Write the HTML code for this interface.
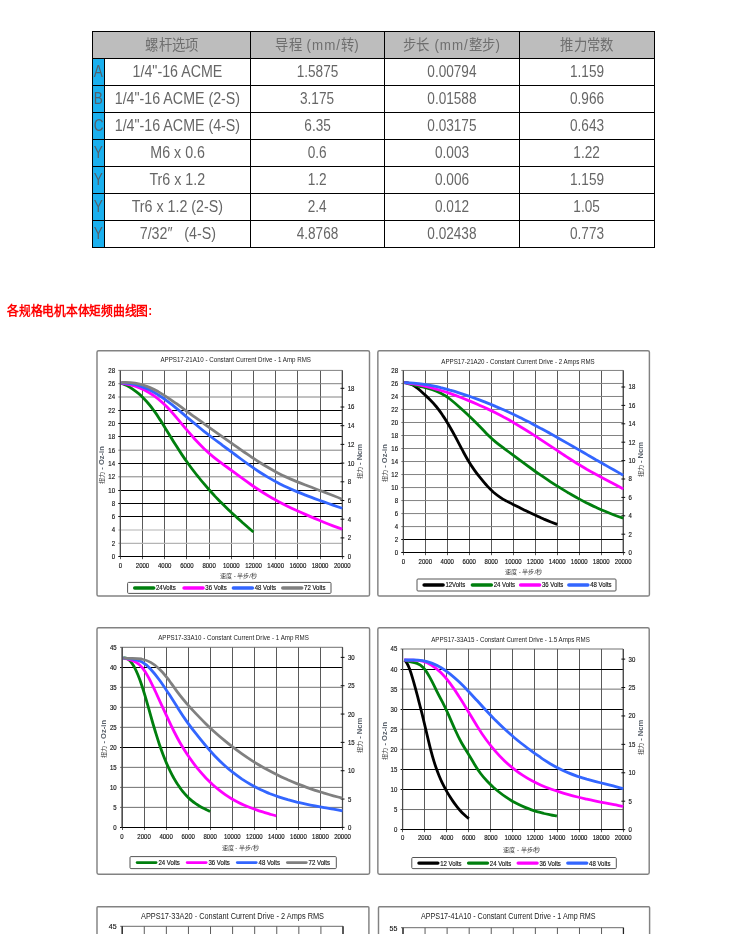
<!DOCTYPE html>
<html lang="zh-CN">
<head>
<meta charset="utf-8">
<title>螺杆选项 / 矩频曲线图</title>
<style>
html,body{margin:0;padding:0;background:#fff;}
html{width:750px;height:934px;overflow:hidden;}
body{width:750px;height:934px;position:relative;overflow:hidden;font-family:"Liberation Sans",sans-serif;color:#666;}
table.spec{position:absolute;left:92px;top:31px;border-collapse:separate;border-spacing:0;table-layout:fixed;width:563px;border-left:1px solid #000;border-top:1px solid #000;font-size:16px;}
table.spec td,table.spec th{box-sizing:border-box;height:27px;padding:0;border-right:1px solid #000;border-bottom:1px solid #000;text-align:center;vertical-align:middle;font-weight:normal;line-height:26px;white-space:nowrap;overflow:hidden;color:#666;}
table.spec th{background:#bdbdbd;color:#6e6e6e;font-size:15px;}
table.spec td.k{background:#1bb0ee;color:#54606a;}
table.spec span{display:inline-block;transform-origin:50% 50%;transform:scaleX(.85);}
table.spec span.n{transform:scaleX(.89);}
table.spec th span{transform:scaleX(.89);}
table.spec th b{font-weight:normal;letter-spacing:1.1px;}
h3.cap{position:absolute;left:7px;top:303px;margin:0;font-size:13px;line-height:15px;font-weight:bold;color:#f00;white-space:nowrap;transform:scaleX(.905);transform-origin:0 50%;}
svg.chart{position:absolute;overflow:hidden;}
svg.chart g.soft,svg.chart.soft{filter:blur(.35px);}
svg.chart text{font-family:"Liberation Sans",sans-serif;fill:#222;}
svg.chart text.ax{font-size:6.7px;fill:#111;stroke:#111;stroke-width:.15px;}
svg.chart text.big{font-size:7.8px;}
svg.chart text.at{font-size:6.1px;fill:#3c3c3c;}
svg.chart tspan.b{font-size:7.6px;font-weight:bold;fill:#5a626c;}
svg.chart text.tt{fill:#222;}
</style>
</head>
<body>
<table class="spec">
<colgroup><col style="width:12px"><col style="width:146px"><col style="width:134px"><col style="width:135px"><col style="width:135px"></colgroup>
<thead><tr><th colspan="2"><span>螺杆选项</span></th><th><span>导程<b> (mm/</b>转<b>)</b></span></th><th><span>步长<b> (mm/</b>整步<b>)</b></span></th><th><span>推力常数</span></th></tr></thead>
<tbody>
<tr><td class="k"><span>A</span></td><td><span class="n">1/4"-16 ACME</span></td><td><span class="d">1.5875</span></td><td><span class="d">0.00794</span></td><td><span class="d">1.159</span></td></tr>
<tr><td class="k"><span>B</span></td><td><span class="n">1/4"-16 ACME (2-S)</span></td><td><span class="d">3.175</span></td><td><span class="d">0.01588</span></td><td><span class="d">0.966</span></td></tr>
<tr><td class="k"><span>C</span></td><td><span class="n">1/4"-16 ACME (4-S)</span></td><td><span class="d">6.35</span></td><td><span class="d">0.03175</span></td><td><span class="d">0.643</span></td></tr>
<tr><td class="k"><span>Y</span></td><td><span class="n">M6 x 0.6</span></td><td><span class="d">0.6</span></td><td><span class="d">0.003</span></td><td><span class="d">1.22</span></td></tr>
<tr><td class="k"><span>Y</span></td><td><span class="n">Tr6 x 1.2</span></td><td><span class="d">1.2</span></td><td><span class="d">0.006</span></td><td><span class="d">1.159</span></td></tr>
<tr><td class="k"><span>Y</span></td><td><span class="n">Tr6 x 1.2 (2-S)</span></td><td><span class="d">2.4</span></td><td><span class="d">0.012</span></td><td><span class="d">1.05</span></td></tr>
<tr><td class="k"><span>Y</span></td><td><span class="n">7/32″&nbsp;&nbsp; (4-S)</span></td><td><span class="d">4.8768</span></td><td><span class="d">0.02438</span></td><td><span class="d">0.773</span></td></tr>
</tbody>
</table>
<h3 class="cap">各规格电机本体矩频曲线图:</h3>
<svg class="chart" style="left:95px;top:348px" width="277" height="250" viewBox="95 348 277 250">
<g class="soft">
<rect x="97" y="350.75" width="272.5" height="245.25" rx="1.6" fill="#fff" stroke="#828282" stroke-width="1.45"/>
<text class="tt" x="160.4" y="362.34" font-size="6.5" textLength="150.6" lengthAdjust="spacingAndGlyphs">APPS17-21A10 - Constant Current Drive - 1 Amp RMS</text>
<path d="M120.5 370.4V559.2M142.5 370.4V559.2M164.5 370.4V559.2M186.5 370.4V559.2M209.5 370.4V559.2M231.5 370.4V559.2M253.5 370.4V559.2M275.5 370.4V559.2M297.5 370.4V559.2M320.5 370.4V559.2M342.5 370.4V559.2" stroke="#5a5a5a" stroke-width="1" fill="none"/>
<path d="M118.3 476.8H342.3M118.3 450.2H342.3M118.3 397H342.3M118.3 383.7H342.3M118.3 370.4H342.3" stroke="#828282" stroke-width="1" fill="none"/>
<path d="M118.3 543.3H342.3M118.3 530H342.3" stroke="#b4b4b4" stroke-width="1.2" fill="none"/>
</g>
<path d="M118.3 556.5H342.3M118.3 516.5H342.3M118.3 503.5H342.3M118.3 490.5H342.3M118.3 463.5H342.3M118.3 436.5H342.3M118.3 423.5H342.3M118.3 410.5H342.3" stroke="#000" stroke-width="1" fill="none"/>
<path d="M120.3 370.4V556.6M342.3 370.4V556.6" stroke="#4a4a4a" stroke-width="1.25" fill="none"/>
<g class="soft">
<text class="ax" transform="translate(115 559.05) scale(0.9 1)" text-anchor="end">0</text>
<text class="ax" transform="translate(115 545.75) scale(0.9 1)" text-anchor="end">2</text>
<text class="ax" transform="translate(115 532.45) scale(0.9 1)" text-anchor="end">4</text>
<text class="ax" transform="translate(115 519.15) scale(0.9 1)" text-anchor="end">6</text>
<text class="ax" transform="translate(115 505.85) scale(0.9 1)" text-anchor="end">8</text>
<text class="ax" transform="translate(115 492.55) scale(0.9 1)" text-anchor="end">10</text>
<text class="ax" transform="translate(115 479.25) scale(0.9 1)" text-anchor="end">12</text>
<text class="ax" transform="translate(115 465.95) scale(0.9 1)" text-anchor="end">14</text>
<text class="ax" transform="translate(115 452.65) scale(0.9 1)" text-anchor="end">16</text>
<text class="ax" transform="translate(115 439.35) scale(0.9 1)" text-anchor="end">18</text>
<text class="ax" transform="translate(115 426.05) scale(0.9 1)" text-anchor="end">20</text>
<text class="ax" transform="translate(115 412.75) scale(0.9 1)" text-anchor="end">22</text>
<text class="ax" transform="translate(115 399.45) scale(0.9 1)" text-anchor="end">24</text>
<text class="ax" transform="translate(115 386.15) scale(0.9 1)" text-anchor="end">26</text>
<text class="ax" transform="translate(115 372.85) scale(0.9 1)" text-anchor="end">28</text>
<text class="ax" transform="translate(347.7 559.05) scale(0.9 1)">0</text>
<text class="ax" transform="translate(347.7 540.35) scale(0.9 1)">2</text>
<text class="ax" transform="translate(347.7 521.65) scale(0.9 1)">4</text>
<text class="ax" transform="translate(347.7 502.95) scale(0.9 1)">6</text>
<text class="ax" transform="translate(347.7 484.25) scale(0.9 1)">8</text>
<text class="ax" transform="translate(347.7 465.55) scale(0.9 1)">10</text>
<text class="ax" transform="translate(347.7 446.85) scale(0.9 1)">12</text>
<text class="ax" transform="translate(347.7 428.15) scale(0.9 1)">14</text>
<text class="ax" transform="translate(347.7 409.45) scale(0.9 1)">16</text>
<text class="ax" transform="translate(347.7 390.75) scale(0.9 1)">18</text>
<path d="M340.5 556.6H344.3M340.5 537.9H344.3M340.5 519.2H344.3M340.5 500.5H344.3M340.5 481.8H344.3M340.5 463.1H344.3M340.5 444.4H344.3M340.5 425.7H344.3M340.5 407H344.3M340.5 388.3H344.3" stroke="#111" stroke-width="1" fill="none"/>
<text class="ax" transform="translate(120.3 567.85) scale(0.9 1)" text-anchor="middle">0</text>
<text class="ax" transform="translate(142.5 567.85) scale(0.9 1)" text-anchor="middle">2000</text>
<text class="ax" transform="translate(164.7 567.85) scale(0.9 1)" text-anchor="middle">4000</text>
<text class="ax" transform="translate(186.9 567.85) scale(0.9 1)" text-anchor="middle">6000</text>
<text class="ax" transform="translate(209.1 567.85) scale(0.9 1)" text-anchor="middle">8000</text>
<text class="ax" transform="translate(231.3 567.85) scale(0.9 1)" text-anchor="middle">10000</text>
<text class="ax" transform="translate(253.5 567.85) scale(0.9 1)" text-anchor="middle">12000</text>
<text class="ax" transform="translate(275.7 567.85) scale(0.9 1)" text-anchor="middle">14000</text>
<text class="ax" transform="translate(297.9 567.85) scale(0.9 1)" text-anchor="middle">16000</text>
<text class="ax" transform="translate(320.1 567.85) scale(0.9 1)" text-anchor="middle">18000</text>
<text class="ax" transform="translate(342.3 567.85) scale(0.9 1)" text-anchor="middle">20000</text>
<text class="at" x="238.5" y="577.9" text-anchor="middle">速度 - 半步/秒</text>
<text class="at" transform="translate(104.4 465) rotate(-90)" text-anchor="middle">扭力<tspan class="b"> - Oz-in</tspan></text>
<text class="at" transform="translate(361.6 461.5) rotate(-90)" text-anchor="middle">扭力<tspan class="b"> - Ncm</tspan></text>
<path d="M121.3 383.2C123.1 383.9 125.0 384.7 126.8 385.6C128.6 386.5 130.5 387.6 132.3 388.8C134.1 390.0 136.0 391.4 137.8 392.9C139.7 394.4 141.5 396.1 143.3 397.9C145.2 399.8 147.0 401.8 148.8 404.0C150.7 406.2 152.5 408.6 154.3 411.2C156.2 413.8 158.0 416.5 159.8 419.4C161.7 422.2 163.5 425.2 165.3 428.2C167.2 431.2 169.0 434.2 170.9 437.2C172.7 440.3 174.5 443.2 176.4 446.1C178.2 449.0 180.0 451.8 181.9 454.6C183.7 457.3 185.5 459.9 187.4 462.5C189.2 465.1 191.0 467.6 192.9 470.0C194.7 472.4 196.5 474.8 198.4 477.0C200.2 479.3 202.1 481.6 203.9 483.7C205.7 485.9 207.6 488.0 209.4 490.0C211.2 492.1 213.1 494.1 214.9 496.1C216.7 498.0 218.6 499.9 220.4 501.8C222.2 503.6 224.1 505.5 225.9 507.2C227.7 509.0 229.6 510.8 231.4 512.5C233.3 514.2 235.1 515.9 236.9 517.6C238.8 519.2 240.6 520.9 242.4 522.5C244.3 524.1 246.1 525.7 247.9 527.3C249.8 528.9 251.6 530.4 253.4 532.0" stroke="#007f0e" stroke-width="2.8" fill="none" stroke-linecap="butt" stroke-linejoin="round"/>
<path d="M121.3 383.0C124.4 383.5 127.4 384.0 130.5 384.8C133.6 385.6 136.6 386.6 139.7 387.9C142.8 389.1 145.8 390.6 148.9 392.5C152.0 394.3 155.0 396.4 158.1 398.8C161.2 401.3 164.3 404.1 167.3 407.3C170.4 410.5 173.5 414.0 176.5 417.6C179.6 421.3 182.7 425.0 185.7 428.7C188.8 432.3 191.9 435.8 194.9 439.2C198.0 442.5 201.1 445.7 204.1 448.7C207.2 451.6 210.3 454.4 213.3 456.9C216.4 459.4 219.5 461.7 222.5 463.9C225.6 466.2 228.7 468.3 231.8 470.6C234.8 472.8 237.9 475.1 241.0 477.4C244.0 479.6 247.1 481.9 250.2 484.0C253.2 486.2 256.3 488.3 259.4 490.3C262.4 492.3 265.5 494.2 268.6 496.0C271.6 497.8 274.7 499.5 277.8 501.2C280.8 502.8 283.9 504.4 287.0 505.9C290.0 507.4 293.1 508.9 296.2 510.3C299.2 511.7 302.3 513.1 305.4 514.4C308.5 515.8 311.5 517.1 314.6 518.4C317.7 519.7 320.7 520.9 323.8 522.2C326.9 523.5 329.9 524.7 333.0 525.9C336.1 527.1 339.1 528.2 342.2 529.2" stroke="#ff00ff" stroke-width="2.8" fill="none" stroke-linecap="butt" stroke-linejoin="round"/>
<path d="M121.3 382.8C124.4 383.0 127.4 383.3 130.5 383.7C133.6 384.2 136.6 384.9 139.7 385.8C142.8 386.8 145.8 388.0 148.9 389.5C152.0 391.1 155.0 392.8 158.1 394.8C161.2 396.8 164.3 398.9 167.3 401.2C170.4 403.5 173.5 405.9 176.5 408.4C179.6 410.9 182.7 413.5 185.7 416.1C188.8 418.7 191.9 421.2 194.9 423.8C198.0 426.4 201.1 428.9 204.1 431.4C207.2 433.8 210.3 436.2 213.3 438.5C216.4 440.9 219.5 443.1 222.5 445.4C225.6 447.6 228.7 449.9 231.8 452.1C234.8 454.4 237.9 456.7 241.0 459.0C244.0 461.3 247.1 463.5 250.2 465.7C253.2 467.9 256.3 470.0 259.4 472.0C262.4 473.9 265.5 475.8 268.6 477.6C271.6 479.4 274.7 481.1 277.8 482.7C280.8 484.3 283.9 485.8 287.0 487.3C290.0 488.7 293.1 490.1 296.2 491.4C299.2 492.7 302.3 493.9 305.4 495.1C308.5 496.3 311.5 497.5 314.6 498.6C317.7 499.7 320.7 500.8 323.8 501.9C326.9 503.0 329.9 504.0 333.0 505.1C336.1 506.2 339.1 507.2 342.2 508.3" stroke="#3366ff" stroke-width="2.8" fill="none" stroke-linecap="butt" stroke-linejoin="round"/>
<path d="M121.3 382.5C124.4 382.4 127.4 382.4 130.5 382.6C133.6 382.9 136.6 383.4 139.7 384.1C142.8 384.8 145.8 385.9 148.9 387.1C152.0 388.4 155.0 389.9 158.1 391.6C161.2 393.4 164.3 395.3 167.3 397.3C170.4 399.4 173.5 401.5 176.5 403.7C179.6 405.9 182.7 408.2 185.7 410.5C188.8 412.7 191.9 415.0 194.9 417.2C198.0 419.4 201.1 421.6 204.1 423.8C207.2 426.0 210.3 428.2 213.3 430.3C216.4 432.5 219.5 434.7 222.5 436.8C225.6 439.0 228.7 441.1 231.8 443.3C234.8 445.5 237.9 447.6 241.0 449.8C244.0 451.9 247.1 454.0 250.2 456.1C253.2 458.2 256.3 460.2 259.4 462.2C262.4 464.1 265.5 466.0 268.6 467.8C271.6 469.6 274.7 471.3 277.8 472.9C280.8 474.5 283.9 476.0 287.0 477.4C290.0 478.8 293.1 480.1 296.2 481.4C299.2 482.7 302.3 483.9 305.4 485.0C308.5 486.2 311.5 487.4 314.6 488.5C317.7 489.7 320.7 490.8 323.8 491.9C326.9 493.1 329.9 494.3 333.0 495.5C336.1 496.7 339.1 497.9 342.2 499.2" stroke="#808080" stroke-width="2.8" fill="none" stroke-linecap="butt" stroke-linejoin="round"/>
<rect x="127.6" y="582.4" width="203.4" height="11" rx="1" fill="#fff" stroke="#555" stroke-width="1"/>
<path d="M134.7 587.9H153.7" stroke="#007f0e" stroke-width="3.5" stroke-linecap="round"/>
<text class="ax" transform="translate(156 590.35) scale(0.9 1)">24Volts</text>
<path d="M184.05 587.9H203.05" stroke="#ff00ff" stroke-width="3.5" stroke-linecap="round"/>
<text class="ax" transform="translate(205.35 590.35) scale(0.9 1)">36 Volts</text>
<path d="M233.4 587.9H252.4" stroke="#3366ff" stroke-width="3.5" stroke-linecap="round"/>
<text class="ax" transform="translate(254.7 590.35) scale(0.9 1)">48 Volts</text>
<path d="M282.75 587.9H301.75" stroke="#808080" stroke-width="3.5" stroke-linecap="round"/>
<text class="ax" transform="translate(304.05 590.35) scale(0.9 1)">72 Volts</text>
</g>
</svg>
<svg class="chart" style="left:375px;top:348px" width="277" height="250" viewBox="375 348 277 250">
<g class="soft">
<rect x="377.85" y="350.75" width="271.55" height="245.25" rx="1.6" fill="#fff" stroke="#828282" stroke-width="1.45"/>
<text class="tt" x="441.3" y="363.84" font-size="6.5" textLength="153.4" lengthAdjust="spacingAndGlyphs">APPS17-21A20 - Constant Current Drive - 2 Amps RMS</text>
<path d="M403.5 370.45V555.2M425.5 370.45V555.2M447.5 370.45V555.2M469.5 370.45V555.2M491.5 370.45V555.2M513.5 370.45V555.2M535.5 370.45V555.2M557.5 370.45V555.2M579.5 370.45V555.2M601.5 370.45V555.2M623.5 370.45V555.2" stroke="#5a5a5a" stroke-width="1" fill="none"/>
<path d="M401.3 526.58H623.2M401.3 513.57H623.2M401.3 500.56H623.2M401.3 487.55H623.2M401.3 474.54H623.2M401.3 461.52H623.2M401.3 448.51H623.2M401.3 435.5H623.2M401.3 422.49H623.2M401.3 409.48H623.2M401.3 396.47H623.2M401.3 383.46H623.2M401.3 370.45H623.2" stroke="#828282" stroke-width="1" fill="none"/>
</g>
<path d="M401.3 552.5H623.2M401.3 539.5H623.2" stroke="#000" stroke-width="1" fill="none"/>
<path d="M403.3 370.45V552.6M623.2 370.45V552.6" stroke="#4a4a4a" stroke-width="1.25" fill="none"/>
<g class="soft">
<text class="ax" transform="translate(398 555.05) scale(0.9 1)" text-anchor="end">0</text>
<text class="ax" transform="translate(398 542.04) scale(0.9 1)" text-anchor="end">2</text>
<text class="ax" transform="translate(398 529.03) scale(0.9 1)" text-anchor="end">4</text>
<text class="ax" transform="translate(398 516.02) scale(0.9 1)" text-anchor="end">6</text>
<text class="ax" transform="translate(398 503.01) scale(0.9 1)" text-anchor="end">8</text>
<text class="ax" transform="translate(398 490) scale(0.9 1)" text-anchor="end">10</text>
<text class="ax" transform="translate(398 476.99) scale(0.9 1)" text-anchor="end">12</text>
<text class="ax" transform="translate(398 463.97) scale(0.9 1)" text-anchor="end">14</text>
<text class="ax" transform="translate(398 450.96) scale(0.9 1)" text-anchor="end">16</text>
<text class="ax" transform="translate(398 437.95) scale(0.9 1)" text-anchor="end">18</text>
<text class="ax" transform="translate(398 424.94) scale(0.9 1)" text-anchor="end">20</text>
<text class="ax" transform="translate(398 411.93) scale(0.9 1)" text-anchor="end">22</text>
<text class="ax" transform="translate(398 398.92) scale(0.9 1)" text-anchor="end">24</text>
<text class="ax" transform="translate(398 385.91) scale(0.9 1)" text-anchor="end">26</text>
<text class="ax" transform="translate(398 372.9) scale(0.9 1)" text-anchor="end">28</text>
<text class="ax" transform="translate(628.6 555.05) scale(0.9 1)">0</text>
<text class="ax" transform="translate(628.6 536.65) scale(0.9 1)">2</text>
<text class="ax" transform="translate(628.6 518.25) scale(0.9 1)">4</text>
<text class="ax" transform="translate(628.6 499.85) scale(0.9 1)">6</text>
<text class="ax" transform="translate(628.6 481.45) scale(0.9 1)">8</text>
<text class="ax" transform="translate(628.6 463.05) scale(0.9 1)">10</text>
<text class="ax" transform="translate(628.6 444.65) scale(0.9 1)">12</text>
<text class="ax" transform="translate(628.6 426.25) scale(0.9 1)">14</text>
<text class="ax" transform="translate(628.6 407.85) scale(0.9 1)">16</text>
<text class="ax" transform="translate(628.6 389.45) scale(0.9 1)">18</text>
<path d="M621.4 552.6H625.2M621.4 534.2H625.2M621.4 515.8H625.2M621.4 497.4H625.2M621.4 479H625.2M621.4 460.6H625.2M621.4 442.2H625.2M621.4 423.8H625.2M621.4 405.4H625.2M621.4 387H625.2" stroke="#111" stroke-width="1" fill="none"/>
<text class="ax" transform="translate(403.3 564.05) scale(0.9 1)" text-anchor="middle">0</text>
<text class="ax" transform="translate(425.29 564.05) scale(0.9 1)" text-anchor="middle">2000</text>
<text class="ax" transform="translate(447.28 564.05) scale(0.9 1)" text-anchor="middle">4000</text>
<text class="ax" transform="translate(469.27 564.05) scale(0.9 1)" text-anchor="middle">6000</text>
<text class="ax" transform="translate(491.26 564.05) scale(0.9 1)" text-anchor="middle">8000</text>
<text class="ax" transform="translate(513.25 564.05) scale(0.9 1)" text-anchor="middle">10000</text>
<text class="ax" transform="translate(535.24 564.05) scale(0.9 1)" text-anchor="middle">12000</text>
<text class="ax" transform="translate(557.23 564.05) scale(0.9 1)" text-anchor="middle">14000</text>
<text class="ax" transform="translate(579.22 564.05) scale(0.9 1)" text-anchor="middle">16000</text>
<text class="ax" transform="translate(601.21 564.05) scale(0.9 1)" text-anchor="middle">18000</text>
<text class="ax" transform="translate(623.2 564.05) scale(0.9 1)" text-anchor="middle">20000</text>
<text class="at" x="523.6" y="574" text-anchor="middle">速度 - 半步/秒</text>
<text class="at" transform="translate(387.4 463.02) rotate(-90)" text-anchor="middle">扭力<tspan class="b"> - Oz-in</tspan></text>
<text class="at" transform="translate(642.5 459.52) rotate(-90)" text-anchor="middle">扭力<tspan class="b"> - Ncm</tspan></text>
<path d="M404.3 382.7C406.4 382.5 408.5 383.0 410.7 383.9C412.8 384.8 414.9 386.2 417.0 387.9C419.2 389.5 421.3 391.4 423.4 393.4C425.5 395.4 427.7 397.4 429.8 399.5C431.9 401.6 434.0 403.9 436.2 406.5C438.3 409.0 440.4 411.9 442.5 415.1C444.7 418.2 446.8 421.7 448.9 425.3C451.0 428.9 453.2 432.7 455.3 436.6C457.4 440.5 459.5 444.6 461.6 448.7C463.8 452.7 465.9 456.7 468.0 460.3C470.1 464.0 472.3 467.2 474.4 470.1C476.5 473.1 478.6 475.8 480.8 478.4C482.9 481.0 485.0 483.6 487.1 485.9C489.3 488.3 491.4 490.4 493.5 492.3C495.6 494.1 497.8 495.7 499.9 497.1C502.0 498.6 504.1 499.8 506.3 500.9C508.4 502.1 510.5 503.1 512.6 504.2C514.7 505.2 516.9 506.3 519.0 507.3C521.1 508.4 523.2 509.4 525.4 510.5C527.5 511.5 529.6 512.5 531.7 513.5C533.9 514.6 536.0 515.5 538.1 516.5C540.2 517.5 542.4 518.4 544.5 519.4C546.6 520.3 548.7 521.2 550.9 522.0C553.0 522.8 555.1 523.6 557.2 524.4" stroke="#000000" stroke-width="2.8" fill="none" stroke-linecap="butt" stroke-linejoin="round"/>
<path d="M404.3 382.7C407.3 383.6 410.4 384.4 413.4 385.0C416.5 385.7 419.5 386.3 422.5 387.0C425.6 387.7 428.6 388.5 431.7 389.5C434.7 390.5 437.7 391.7 440.8 393.3C443.8 394.8 446.9 396.7 449.9 399.0C452.9 401.4 456.0 404.0 459.0 406.7C462.1 409.4 465.1 412.1 468.1 415.0C471.2 417.9 474.2 420.9 477.3 424.0C480.3 427.1 483.3 430.3 486.4 433.4C489.4 436.4 492.5 439.3 495.5 441.8C498.5 444.3 501.6 446.5 504.6 448.8C507.7 451.1 510.7 453.4 513.8 455.7C516.8 458.0 519.8 460.2 522.9 462.4C525.9 464.7 529.0 466.9 532.0 469.0C535.0 471.2 538.1 473.3 541.1 475.4C544.2 477.5 547.2 479.6 550.2 481.6C553.3 483.6 556.3 485.5 559.4 487.4C562.4 489.3 565.4 491.2 568.5 492.9C571.5 494.7 574.6 496.4 577.6 498.1C580.6 499.8 583.7 501.4 586.7 502.9C589.8 504.4 592.8 505.9 595.8 507.3C598.9 508.7 601.9 510.1 605.0 511.3C608.0 512.6 611.0 513.8 614.1 515.0C617.1 516.1 620.2 517.2 623.2 518.2" stroke="#007f0e" stroke-width="2.8" fill="none" stroke-linecap="butt" stroke-linejoin="round"/>
<path d="M404.3 382.7C407.3 383.1 410.4 383.5 413.4 383.9C416.5 384.4 419.5 385.0 422.5 385.7C425.6 386.3 428.6 387.0 431.7 387.8C434.7 388.6 437.7 389.5 440.8 390.5C443.8 391.4 446.9 392.4 449.9 393.4C452.9 394.5 456.0 395.6 459.0 396.8C462.1 397.9 465.1 399.1 468.1 400.4C471.2 401.6 474.2 402.9 477.3 404.3C480.3 405.6 483.3 407.0 486.4 408.4C489.4 409.8 492.5 411.3 495.5 412.8C498.5 414.4 501.6 415.9 504.6 417.6C507.7 419.2 510.7 420.9 513.8 422.7C516.8 424.5 519.8 426.3 522.9 428.2C525.9 430.0 529.0 431.9 532.0 433.9C535.0 435.9 538.1 437.8 541.1 439.8C544.2 441.9 547.2 443.9 550.2 445.9C553.3 447.9 556.3 450.0 559.4 452.0C562.4 454.0 565.4 456.0 568.5 458.0C571.5 460.0 574.6 461.9 577.6 463.8C580.6 465.6 583.7 467.4 586.7 469.2C589.8 470.9 592.8 472.6 595.8 474.3C598.9 475.9 601.9 477.6 605.0 479.2C608.0 480.8 611.0 482.4 614.1 484.1C617.1 485.7 620.2 487.3 623.2 489.0" stroke="#ff00ff" stroke-width="2.8" fill="none" stroke-linecap="butt" stroke-linejoin="round"/>
<path d="M404.3 382.7C407.3 382.8 410.4 382.9 413.4 383.1C416.5 383.4 419.5 383.7 422.5 384.1C425.6 384.6 428.6 385.1 431.7 385.7C434.7 386.3 437.7 386.9 440.8 387.7C443.8 388.4 446.9 389.2 449.9 390.1C452.9 390.9 456.0 391.8 459.0 392.8C462.1 393.8 465.1 394.8 468.1 395.8C471.2 396.9 474.2 398.0 477.3 399.1C480.3 400.2 483.3 401.4 486.4 402.6C489.4 403.8 492.5 405.1 495.5 406.4C498.5 407.6 501.6 409.0 504.6 410.3C507.7 411.7 510.7 413.1 513.8 414.6C516.8 416.0 519.8 417.5 522.9 419.0C525.9 420.6 529.0 422.1 532.0 423.7C535.0 425.3 538.1 426.9 541.1 428.6C544.2 430.2 547.2 431.9 550.2 433.5C553.3 435.2 556.3 436.9 559.4 438.7C562.4 440.4 565.4 442.1 568.5 443.9C571.5 445.6 574.6 447.4 577.6 449.1C580.6 450.9 583.7 452.6 586.7 454.4C589.8 456.2 592.8 457.9 595.8 459.7C598.9 461.4 601.9 463.2 605.0 464.9C608.0 466.7 611.0 468.4 614.1 470.1C617.1 471.8 620.2 473.5 623.2 475.2" stroke="#3366ff" stroke-width="2.8" fill="none" stroke-linecap="butt" stroke-linejoin="round"/>
<rect x="417" y="579" width="199" height="12" rx="1" fill="#fff" stroke="#555" stroke-width="1"/>
<path d="M424.1 585H443.1" stroke="#000000" stroke-width="3.5" stroke-linecap="round"/>
<text class="ax" transform="translate(445.4 587.45) scale(0.9 1)">12Volts</text>
<path d="M472.35 585H491.35" stroke="#007f0e" stroke-width="3.5" stroke-linecap="round"/>
<text class="ax" transform="translate(493.65 587.45) scale(0.9 1)">24 Volts</text>
<path d="M520.6 585H539.6" stroke="#ff00ff" stroke-width="3.5" stroke-linecap="round"/>
<text class="ax" transform="translate(541.9 587.45) scale(0.9 1)">36 Volts</text>
<path d="M568.85 585H587.85" stroke="#3366ff" stroke-width="3.5" stroke-linecap="round"/>
<text class="ax" transform="translate(590.15 587.45) scale(0.9 1)">48 Volts</text>
</g>
</svg>
<svg class="chart" style="left:95px;top:625px" width="277" height="252" viewBox="95 625 277 252">
<g class="soft">
<rect x="97" y="627.7" width="272.6" height="246.5" rx="1.6" fill="#fff" stroke="#828282" stroke-width="1.45"/>
<text class="tt" x="158.15" y="640.14" font-size="6.5" textLength="150.7" lengthAdjust="spacingAndGlyphs">APPS17-33A10 - Constant Current Drive - 1 Amp RMS</text>
<path d="M122.5 647.3V830M144.5 647.3V830M166.5 647.3V830M188.5 647.3V830M210.5 647.3V830M232.5 647.3V830M254.5 647.3V830M276.5 647.3V830M298.5 647.3V830M320.5 647.3V830M342.5 647.3V830" stroke="#5a5a5a" stroke-width="1" fill="none"/>
<path d="M120 807.39H342.5M120 787.38H342.5M120 767.37H342.5M120 727.34H342.5M120 707.33H342.5M120 687.32H342.5M120 647.3H342.5" stroke="#606060" stroke-width="0.9" fill="none"/>
</g>
<path d="M120 827.5H342.5M120 747.5H342.5M120 667.5H342.5" stroke="#000" stroke-width="1" fill="none"/>
<path d="M122 647.3V827.4M342.5 647.3V827.4" stroke="#4a4a4a" stroke-width="1.25" fill="none"/>
<g class="soft">
<text class="ax" transform="translate(116.7 829.85) scale(0.9 1)" text-anchor="end">0</text>
<text class="ax" transform="translate(116.7 809.84) scale(0.9 1)" text-anchor="end">5</text>
<text class="ax" transform="translate(116.7 789.83) scale(0.9 1)" text-anchor="end">10</text>
<text class="ax" transform="translate(116.7 769.82) scale(0.9 1)" text-anchor="end">15</text>
<text class="ax" transform="translate(116.7 749.81) scale(0.9 1)" text-anchor="end">20</text>
<text class="ax" transform="translate(116.7 729.79) scale(0.9 1)" text-anchor="end">25</text>
<text class="ax" transform="translate(116.7 709.78) scale(0.9 1)" text-anchor="end">30</text>
<text class="ax" transform="translate(116.7 689.77) scale(0.9 1)" text-anchor="end">35</text>
<text class="ax" transform="translate(116.7 669.76) scale(0.9 1)" text-anchor="end">40</text>
<text class="ax" transform="translate(116.7 649.75) scale(0.9 1)" text-anchor="end">45</text>
<text class="ax" transform="translate(347.9 829.85) scale(0.9 1)">0</text>
<text class="ax" transform="translate(347.9 801.51) scale(0.9 1)">5</text>
<text class="ax" transform="translate(347.9 773.18) scale(0.9 1)">10</text>
<text class="ax" transform="translate(347.9 744.84) scale(0.9 1)">15</text>
<text class="ax" transform="translate(347.9 716.51) scale(0.9 1)">20</text>
<text class="ax" transform="translate(347.9 688.17) scale(0.9 1)">25</text>
<text class="ax" transform="translate(347.9 659.84) scale(0.9 1)">30</text>
<path d="M340.7 827.4H344.5M340.7 799.06H344.5M340.7 770.73H344.5M340.7 742.39H344.5M340.7 714.06H344.5M340.7 685.72H344.5M340.7 657.39H344.5" stroke="#111" stroke-width="1" fill="none"/>
<text class="ax" transform="translate(122 838.65) scale(0.9 1)" text-anchor="middle">0</text>
<text class="ax" transform="translate(144.05 838.65) scale(0.9 1)" text-anchor="middle">2000</text>
<text class="ax" transform="translate(166.1 838.65) scale(0.9 1)" text-anchor="middle">4000</text>
<text class="ax" transform="translate(188.15 838.65) scale(0.9 1)" text-anchor="middle">6000</text>
<text class="ax" transform="translate(210.2 838.65) scale(0.9 1)" text-anchor="middle">8000</text>
<text class="ax" transform="translate(232.25 838.65) scale(0.9 1)" text-anchor="middle">10000</text>
<text class="ax" transform="translate(254.3 838.65) scale(0.9 1)" text-anchor="middle">12000</text>
<text class="ax" transform="translate(276.35 838.65) scale(0.9 1)" text-anchor="middle">14000</text>
<text class="ax" transform="translate(298.4 838.65) scale(0.9 1)" text-anchor="middle">16000</text>
<text class="ax" transform="translate(320.45 838.65) scale(0.9 1)" text-anchor="middle">18000</text>
<text class="ax" transform="translate(342.5 838.65) scale(0.9 1)" text-anchor="middle">20000</text>
<text class="at" x="240.2" y="849.8" text-anchor="middle">速度 - 半步/秒</text>
<text class="at" transform="translate(106.1 738.85) rotate(-90)" text-anchor="middle">扭力<tspan class="b"> - Oz-in</tspan></text>
<text class="at" transform="translate(361.8 735.35) rotate(-90)" text-anchor="middle">扭力<tspan class="b"> - Ncm</tspan></text>
<path d="M123.3 658.2C124.5 657.8 125.7 657.9 126.9 658.4C128.1 659.0 129.3 660.0 130.5 661.4C131.7 662.8 132.9 664.6 134.2 666.8C135.4 669.0 136.6 671.6 137.8 674.5C139.0 677.4 140.2 680.6 141.4 684.2C142.6 687.7 143.8 691.5 145.0 695.6C146.2 699.6 147.4 703.9 148.6 708.2C149.8 712.5 151.0 716.8 152.2 721.0C153.4 725.3 154.7 729.4 155.9 733.4C157.1 737.3 158.3 741.1 159.5 744.7C160.7 748.2 161.9 751.5 163.1 754.7C164.3 757.8 165.5 760.8 166.7 763.6C167.9 766.4 169.1 769.0 170.3 771.4C171.5 773.9 172.7 776.2 173.9 778.3C175.2 780.4 176.4 782.4 177.6 784.3C178.8 786.1 180.0 787.9 181.2 789.5C182.4 791.1 183.6 792.5 184.8 793.9C186.0 795.3 187.2 796.5 188.4 797.7C189.6 798.9 190.8 799.9 192.0 800.9C193.2 801.9 194.4 802.8 195.7 803.7C196.9 804.5 198.1 805.3 199.3 806.0C200.5 806.7 201.7 807.4 202.9 808.0C204.1 808.6 205.3 809.2 206.5 809.8C207.7 810.3 208.9 810.8 210.1 811.4" stroke="#007f0e" stroke-width="2.8" fill="none" stroke-linecap="butt" stroke-linejoin="round"/>
<path d="M123.3 658.2C125.4 658.7 127.5 659.1 129.7 659.7C131.8 660.2 133.9 661.0 136.0 662.3C138.2 663.5 140.3 665.2 142.4 667.8C144.5 670.3 146.7 673.8 148.8 677.8C150.9 681.8 153.0 686.4 155.2 691.0C157.3 695.6 159.4 700.2 161.5 704.9C163.7 709.5 165.8 714.2 167.9 718.7C170.0 723.3 172.1 727.7 174.3 732.0C176.4 736.2 178.5 740.1 180.6 743.8C182.8 747.5 184.9 750.9 187.0 754.1C189.1 757.3 191.3 760.3 193.4 763.1C195.5 766.0 197.6 768.7 199.8 771.2C201.9 773.7 204.0 776.0 206.1 778.3C208.3 780.5 210.4 782.5 212.5 784.5C214.6 786.4 216.7 788.2 218.9 789.9C221.0 791.6 223.1 793.1 225.2 794.6C227.4 796.1 229.5 797.4 231.6 798.7C233.7 799.9 235.9 801.1 238.0 802.2C240.1 803.3 242.2 804.3 244.4 805.2C246.5 806.1 248.6 807.0 250.7 807.8C252.8 808.6 255.0 809.4 257.1 810.1C259.2 810.9 261.3 811.5 263.5 812.2C265.6 812.8 267.7 813.5 269.8 814.1C272.0 814.7 274.1 815.3 276.2 815.8" stroke="#ff00ff" stroke-width="2.8" fill="none" stroke-linecap="butt" stroke-linejoin="round"/>
<path d="M123.3 658.2C126.3 658.5 129.4 658.6 132.4 659.1C135.5 659.5 138.5 660.3 141.6 661.8C144.6 663.4 147.7 665.9 150.7 669.2C153.7 672.4 156.8 676.3 159.8 680.5C162.9 684.8 165.9 689.4 169.0 694.1C172.0 698.8 175.1 703.6 178.1 708.4C181.1 713.1 184.2 717.8 187.2 722.1C190.3 726.4 193.3 730.4 196.4 734.2C199.4 738.1 202.5 741.8 205.5 745.4C208.5 749.1 211.6 752.5 214.6 755.7C217.7 758.9 220.7 761.9 223.8 764.7C226.8 767.5 229.9 770.1 232.9 772.4C235.9 774.8 239.0 777.0 242.0 779.1C245.1 781.1 248.1 783.0 251.2 784.7C254.2 786.4 257.3 788.0 260.3 789.5C263.3 790.9 266.4 792.2 269.4 793.5C272.5 794.7 275.5 795.8 278.6 796.8C281.6 797.8 284.7 798.8 287.7 799.7C290.7 800.5 293.8 801.3 296.8 802.1C299.9 802.8 302.9 803.5 306.0 804.1C309.0 804.8 312.1 805.4 315.1 805.9C318.1 806.5 321.2 807.1 324.2 807.6C327.3 808.1 330.3 808.7 333.4 809.2C336.4 809.7 339.5 810.3 342.5 810.9" stroke="#3366ff" stroke-width="2.8" fill="none" stroke-linecap="butt" stroke-linejoin="round"/>
<path d="M123.3 658.2C126.3 658.5 129.4 658.4 132.4 658.4C135.5 658.4 138.5 658.5 141.6 659.0C144.6 659.6 147.7 660.7 150.7 662.4C153.7 664.1 156.8 666.4 159.8 669.4C162.9 672.4 165.9 676.1 169.0 680.2C172.0 684.4 175.1 688.9 178.1 692.9C181.1 697.0 184.2 700.6 187.2 704.1C190.3 707.6 193.3 710.9 196.4 714.1C199.4 717.3 202.5 720.4 205.5 723.4C208.5 726.4 211.6 729.3 214.6 732.0C217.7 734.8 220.7 737.4 223.8 739.9C226.8 742.5 229.9 744.9 232.9 747.2C235.9 749.6 239.0 751.8 242.0 753.9C245.1 756.1 248.1 758.1 251.2 760.1C254.2 762.1 257.3 763.9 260.3 765.7C263.3 767.5 266.4 769.2 269.4 770.8C272.5 772.5 275.5 774.0 278.6 775.5C281.6 777.0 284.7 778.4 287.7 779.8C290.7 781.1 293.8 782.4 296.8 783.6C299.9 784.8 302.9 786.0 306.0 787.1C309.0 788.2 312.1 789.3 315.1 790.3C318.1 791.3 321.2 792.2 324.2 793.2C327.3 794.1 330.3 794.9 333.4 795.8C336.4 796.6 339.5 797.4 342.5 798.2" stroke="#808080" stroke-width="2.8" fill="none" stroke-linecap="butt" stroke-linejoin="round"/>
<rect x="130" y="856.6" width="206.3" height="12" rx="1" fill="#fff" stroke="#555" stroke-width="1"/>
<path d="M137.1 862.6H156.1" stroke="#007f0e" stroke-width="2.7" stroke-linecap="round"/>
<text class="ax" transform="translate(158.4 865.05) scale(0.9 1)">24 Volts</text>
<path d="M187.17 862.6H206.17" stroke="#ff00ff" stroke-width="2.7" stroke-linecap="round"/>
<text class="ax" transform="translate(208.47 865.05) scale(0.9 1)">36 Volts</text>
<path d="M237.25 862.6H256.25" stroke="#3366ff" stroke-width="2.7" stroke-linecap="round"/>
<text class="ax" transform="translate(258.55 865.05) scale(0.9 1)">48 Volts</text>
<path d="M287.33 862.6H306.33" stroke="#808080" stroke-width="2.7" stroke-linecap="round"/>
<text class="ax" transform="translate(308.62 865.05) scale(0.9 1)">72 Volts</text>
</g>
</svg>
<svg class="chart" style="left:375px;top:625px" width="277" height="252" viewBox="375 625 277 252">
<g class="soft">
<rect x="377.85" y="627.7" width="271.35" height="246.5" rx="1.6" fill="#fff" stroke="#828282" stroke-width="1.45"/>
<text class="tt" x="431.15" y="642.04" font-size="6.5" textLength="158.7" lengthAdjust="spacingAndGlyphs">APPS17-33A15 - Constant Current Drive - 1.5 Amps RMS</text>
<path d="M402.5 649V832.2M424.5 649V832.2M446.5 649V832.2M468.5 649V832.2M490.5 649V832.2M512.5 649V832.2M534.5 649V832.2M557.5 649V832.2M579.5 649V832.2M601.5 649V832.2M623.5 649V832.2" stroke="#5a5a5a" stroke-width="1" fill="none"/>
<path d="M400.6 809.53H623.2M400.6 749.33H623.2M400.6 729.27H623.2M400.6 689.13H623.2M400.6 649H623.2" stroke="#606060" stroke-width="0.9" fill="none"/>
</g>
<path d="M400.6 829.5H623.2M400.6 789.5H623.2M400.6 769.5H623.2M400.6 709.5H623.2M400.6 669.5H623.2" stroke="#000" stroke-width="1" fill="none"/>
<path d="M402.6 649V829.6M623.2 649V829.6" stroke="#4a4a4a" stroke-width="1.25" fill="none"/>
<g class="soft">
<text class="ax" transform="translate(397.3 832.05) scale(0.9 1)" text-anchor="end">0</text>
<text class="ax" transform="translate(397.3 811.98) scale(0.9 1)" text-anchor="end">5</text>
<text class="ax" transform="translate(397.3 791.92) scale(0.9 1)" text-anchor="end">10</text>
<text class="ax" transform="translate(397.3 771.85) scale(0.9 1)" text-anchor="end">15</text>
<text class="ax" transform="translate(397.3 751.78) scale(0.9 1)" text-anchor="end">20</text>
<text class="ax" transform="translate(397.3 731.72) scale(0.9 1)" text-anchor="end">25</text>
<text class="ax" transform="translate(397.3 711.65) scale(0.9 1)" text-anchor="end">30</text>
<text class="ax" transform="translate(397.3 691.58) scale(0.9 1)" text-anchor="end">35</text>
<text class="ax" transform="translate(397.3 671.52) scale(0.9 1)" text-anchor="end">40</text>
<text class="ax" transform="translate(397.3 651.45) scale(0.9 1)" text-anchor="end">45</text>
<text class="ax" transform="translate(628.6 832.05) scale(0.9 1)">0</text>
<text class="ax" transform="translate(628.6 803.64) scale(0.9 1)">5</text>
<text class="ax" transform="translate(628.6 775.22) scale(0.9 1)">10</text>
<text class="ax" transform="translate(628.6 746.81) scale(0.9 1)">15</text>
<text class="ax" transform="translate(628.6 718.39) scale(0.9 1)">20</text>
<text class="ax" transform="translate(628.6 689.98) scale(0.9 1)">25</text>
<text class="ax" transform="translate(628.6 661.56) scale(0.9 1)">30</text>
<path d="M621.4 829.6H625.2M621.4 801.19H625.2M621.4 772.77H625.2M621.4 744.36H625.2M621.4 715.94H625.2M621.4 687.53H625.2M621.4 659.11H625.2" stroke="#111" stroke-width="1" fill="none"/>
<text class="ax" transform="translate(402.6 840.05) scale(0.9 1)" text-anchor="middle">0</text>
<text class="ax" transform="translate(424.66 840.05) scale(0.9 1)" text-anchor="middle">2000</text>
<text class="ax" transform="translate(446.72 840.05) scale(0.9 1)" text-anchor="middle">4000</text>
<text class="ax" transform="translate(468.78 840.05) scale(0.9 1)" text-anchor="middle">6000</text>
<text class="ax" transform="translate(490.84 840.05) scale(0.9 1)" text-anchor="middle">8000</text>
<text class="ax" transform="translate(512.9 840.05) scale(0.9 1)" text-anchor="middle">10000</text>
<text class="ax" transform="translate(534.96 840.05) scale(0.9 1)" text-anchor="middle">12000</text>
<text class="ax" transform="translate(557.02 840.05) scale(0.9 1)" text-anchor="middle">14000</text>
<text class="ax" transform="translate(579.08 840.05) scale(0.9 1)" text-anchor="middle">16000</text>
<text class="ax" transform="translate(601.14 840.05) scale(0.9 1)" text-anchor="middle">18000</text>
<text class="ax" transform="translate(623.2 840.05) scale(0.9 1)" text-anchor="middle">20000</text>
<text class="at" x="521.8" y="851.5" text-anchor="middle">速度 - 半步/秒</text>
<text class="at" transform="translate(386.7 740.8) rotate(-90)" text-anchor="middle">扭力<tspan class="b"> - Oz-in</tspan></text>
<text class="at" transform="translate(642.5 737.3) rotate(-90)" text-anchor="middle">扭力<tspan class="b"> - Ncm</tspan></text>
<path d="M404.3 660.0C405.2 660.5 406.1 661.6 407.0 663.2C407.9 664.8 408.8 666.9 409.7 669.3C410.6 671.8 411.5 674.6 412.4 677.6C413.3 680.6 414.2 683.8 415.1 687.1C416.0 690.4 416.9 693.7 417.8 697.1C418.6 700.5 419.5 703.9 420.4 707.4C421.3 710.8 422.2 714.4 423.1 718.1C424.0 721.9 424.9 725.7 425.8 729.5C426.7 733.4 427.6 737.2 428.5 740.9C429.4 744.7 430.3 748.3 431.2 751.7C432.1 755.1 433.0 758.2 433.9 761.2C434.8 764.1 435.7 766.8 436.6 769.3C437.5 771.8 438.4 774.1 439.3 776.2C440.2 778.4 441.1 780.4 442.0 782.3C442.9 784.1 443.8 785.9 444.7 787.6C445.5 789.2 446.4 790.8 447.3 792.4C448.2 793.9 449.1 795.4 450.0 796.8C450.9 798.2 451.8 799.6 452.7 800.9C453.6 802.2 454.5 803.5 455.4 804.7C456.3 805.9 457.2 807.0 458.1 808.1C459.0 809.2 459.9 810.3 460.8 811.2C461.7 812.2 462.6 813.1 463.5 814.0C464.4 814.9 465.3 815.7 466.2 816.5C467.1 817.2 468.0 817.9 468.9 818.6" stroke="#000000" stroke-width="2.8" fill="none" stroke-linecap="butt" stroke-linejoin="round"/>
<path d="M404.3 660.0C406.4 661.1 408.5 661.5 410.7 661.9C412.8 662.3 414.9 662.7 417.0 663.4C419.1 664.2 421.3 665.5 423.4 667.7C425.5 669.9 427.6 673.3 429.7 677.2C431.9 681.1 434.0 685.5 436.1 689.8C438.2 694.0 440.3 698.0 442.5 702.1C444.6 706.2 446.7 710.6 448.8 715.4C450.9 720.3 453.1 725.4 455.2 730.0C457.3 734.7 459.4 738.9 461.5 742.7C463.7 746.5 465.8 749.8 467.9 753.2C470.0 756.6 472.1 760.3 474.3 763.9C476.4 767.5 478.5 770.7 480.6 773.5C482.7 776.3 484.9 778.8 487.0 781.0C489.1 783.2 491.2 785.3 493.3 787.2C495.5 789.1 497.6 790.9 499.7 792.5C501.8 794.2 503.9 795.7 506.1 797.2C508.2 798.6 510.3 799.9 512.4 801.2C514.5 802.4 516.7 803.5 518.8 804.5C520.9 805.6 523.0 806.5 525.1 807.4C527.3 808.3 529.4 809.1 531.5 809.8C533.6 810.5 535.7 811.2 537.9 811.8C540.0 812.4 542.1 812.9 544.2 813.5C546.3 814.0 548.5 814.4 550.6 814.8C552.7 815.3 554.8 815.6 556.9 816.0" stroke="#007f0e" stroke-width="2.8" fill="none" stroke-linecap="butt" stroke-linejoin="round"/>
<path d="M404.3 660.0C407.3 660.1 410.4 660.0 413.4 660.1C416.5 660.2 419.5 660.4 422.5 661.2C425.6 662.0 428.6 663.3 431.7 665.2C434.7 667.1 437.7 669.6 440.8 672.6C443.8 675.6 446.9 679.1 449.9 683.1C452.9 687.1 456.0 691.6 459.0 696.4C462.1 701.1 465.1 706.1 468.1 711.2C471.2 716.3 474.2 721.5 477.3 726.4C480.3 731.4 483.3 735.9 486.4 740.0C489.4 744.1 492.5 747.9 495.5 751.4C498.5 754.9 501.6 758.1 504.6 761.0C507.7 763.9 510.7 766.5 513.8 768.9C516.8 771.3 519.8 773.5 522.9 775.4C525.9 777.4 529.0 779.2 532.0 780.8C535.0 782.4 538.1 783.9 541.1 785.2C544.2 786.5 547.2 787.7 550.2 788.8C553.3 789.9 556.3 791.0 559.4 791.9C562.4 792.9 565.4 793.8 568.5 794.6C571.5 795.5 574.6 796.3 577.6 797.0C580.6 797.8 583.7 798.5 586.7 799.2C589.8 799.9 592.8 800.5 595.8 801.1C598.9 801.8 601.9 802.4 605.0 802.9C608.0 803.5 611.0 804.1 614.1 804.7C617.1 805.3 620.2 805.8 623.2 806.4" stroke="#ff00ff" stroke-width="2.8" fill="none" stroke-linecap="butt" stroke-linejoin="round"/>
<path d="M404.3 660.0C407.3 659.8 410.4 659.8 413.4 659.8C416.5 659.9 419.5 660.2 422.5 660.7C425.6 661.2 428.6 662.0 431.7 663.1C434.7 664.3 437.7 665.7 440.8 667.5C443.8 669.3 446.9 671.4 449.9 673.8C452.9 676.2 456.0 678.9 459.0 681.8C462.1 684.7 465.1 687.8 468.1 691.0C471.2 694.2 474.2 697.5 477.3 700.8C480.3 704.2 483.3 707.5 486.4 710.8C489.4 714.1 492.5 717.2 495.5 720.3C498.5 723.3 501.6 726.3 504.6 729.1C507.7 731.9 510.7 734.6 513.8 737.2C516.8 739.7 519.8 742.2 522.9 744.5C525.9 746.9 529.0 749.2 532.0 751.4C535.0 753.6 538.1 755.7 541.1 757.8C544.2 759.9 547.2 761.8 550.2 763.7C553.3 765.5 556.3 767.2 559.4 768.8C562.4 770.3 565.4 771.7 568.5 772.9C571.5 774.2 574.6 775.3 577.6 776.3C580.6 777.3 583.7 778.3 586.7 779.2C589.8 780.0 592.8 780.8 595.8 781.6C598.9 782.4 601.9 783.1 605.0 783.9C608.0 784.6 611.0 785.4 614.1 786.2C617.1 787.0 620.2 787.8 623.2 788.7" stroke="#3366ff" stroke-width="2.8" fill="none" stroke-linecap="butt" stroke-linejoin="round"/>
<rect x="411.8" y="857.5" width="204.5" height="11.1" rx="1" fill="#fff" stroke="#555" stroke-width="1"/>
<path d="M418.9 863.05H437.9" stroke="#000000" stroke-width="3.3" stroke-linecap="round"/>
<text class="ax" transform="translate(440.2 865.5) scale(0.9 1)">12 Volts</text>
<path d="M468.53 863.05H487.53" stroke="#007f0e" stroke-width="3.3" stroke-linecap="round"/>
<text class="ax" transform="translate(489.82 865.5) scale(0.9 1)">24 Volts</text>
<path d="M518.15 863.05H537.15" stroke="#ff00ff" stroke-width="3.3" stroke-linecap="round"/>
<text class="ax" transform="translate(539.45 865.5) scale(0.9 1)">36 Volts</text>
<path d="M567.77 863.05H586.77" stroke="#3366ff" stroke-width="3.3" stroke-linecap="round"/>
<text class="ax" transform="translate(589.07 865.5) scale(0.9 1)">48 Volts</text>
</g>
</svg>
<svg class="chart soft" style="left:95px;top:904px" width="276" height="30" viewBox="95 904 276 30">
<rect x="97" y="906.8" width="271.9" height="260" rx="0.9" fill="#fff" stroke="#828282" stroke-width="1.45"/>
<text class="tt" x="141" y="919" font-size="8.3" textLength="183" lengthAdjust="spacingAndGlyphs">APPS17-33A20 - Constant Current Drive - 2 Amps RMS</text>
<path d="M122.2 926.3V940M144.28 926.3V940M166.36 926.3V940M188.44 926.3V940M210.52 926.3V940M232.6 926.3V940M254.68 926.3V940M276.76 926.3V940M298.84 926.3V940M320.92 926.3V940M343 926.3V940" stroke="#4a4a4a" stroke-width="0.9" fill="none"/>
<path d="M120.2 926.3H343" stroke="#5a5a5a" stroke-width="0.9" fill="none"/>
<path d="M122.2 926.3V940M343 926.3V940" stroke="#222" stroke-width="1.2" fill="none"/>
<text class="ax big" transform="translate(116.6 929.2) scale(0.9 1)" text-anchor="end">45</text>
</svg>
<svg class="chart soft" style="left:376px;top:904px" width="276" height="30" viewBox="376 904 276 30">
<rect x="378.5" y="906.8" width="271.1" height="260" rx="0.9" fill="#fff" stroke="#828282" stroke-width="1.45"/>
<text class="tt" x="421" y="919" font-size="8.3" textLength="174.6" lengthAdjust="spacingAndGlyphs">APPS17-41A10 - Constant Current Drive - 1 Amp RMS</text>
<path d="M403 927.7V940M425.06 927.7V940M447.12 927.7V940M469.18 927.7V940M491.24 927.7V940M513.3 927.7V940M535.36 927.7V940M557.42 927.7V940M579.48 927.7V940M601.54 927.7V940M623.6 927.7V940" stroke="#4a4a4a" stroke-width="0.9" fill="none"/>
<path d="M401 927.7H623.4" stroke="#5a5a5a" stroke-width="0.9" fill="none"/>
<path d="M403 927.7V940M623.4 927.7V940" stroke="#222" stroke-width="1.2" fill="none"/>
<text class="ax big" transform="translate(397.4 930.6) scale(0.9 1)" text-anchor="end">55</text>
</svg>
</body>
</html>
